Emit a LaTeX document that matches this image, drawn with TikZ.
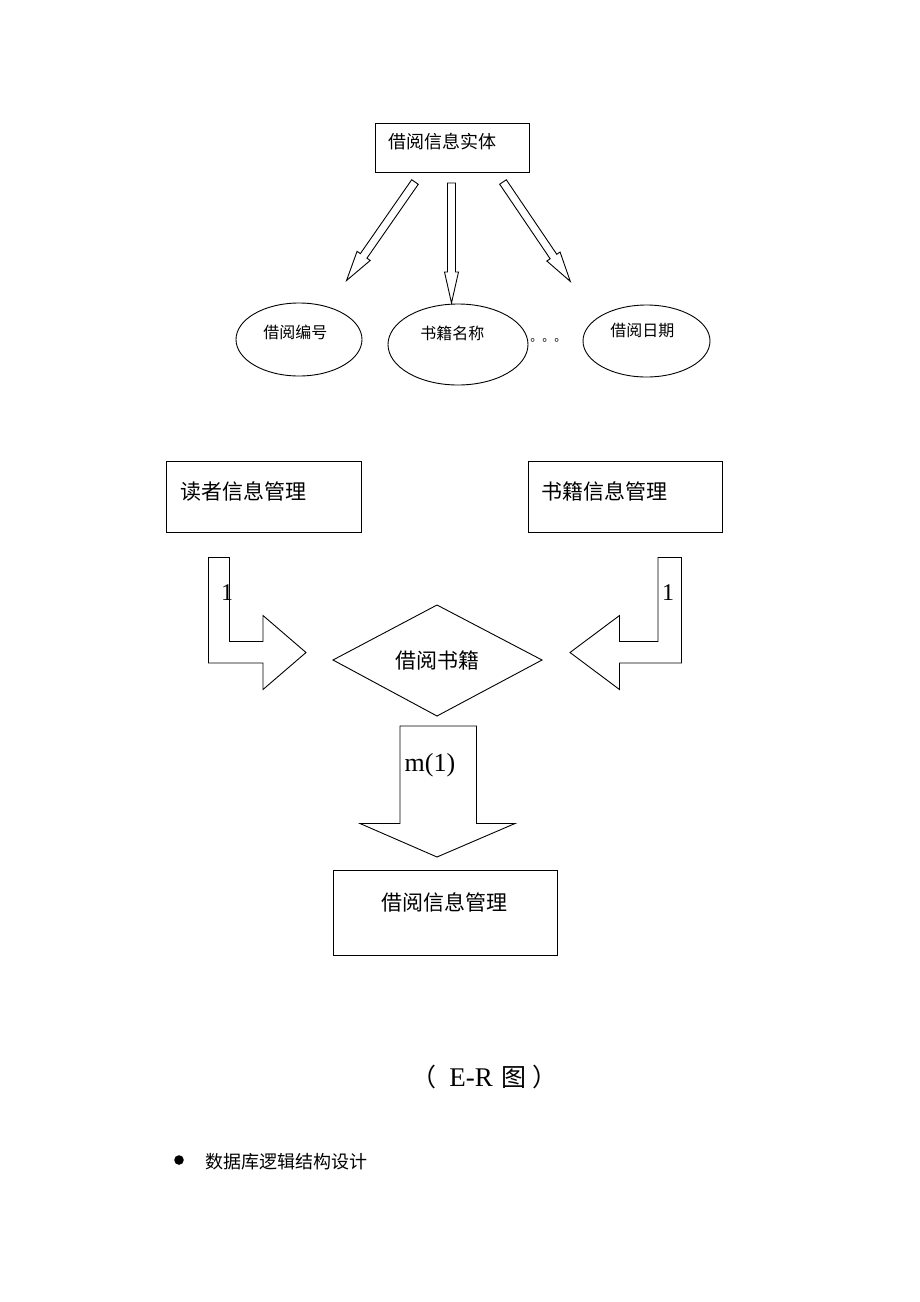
\documentclass[tikz,border=0pt]{standalone}
\usepackage{fontspec}
\setmainfont{Liberation Serif}
\newfontfamily\cjk{Noto Sans CJK SC}

\begin{document}
\begin{tikzpicture}[x=1pt, y=-1pt, line width=0.9pt, line join=miter,
    txt/.style={inner sep=0pt, anchor=west, font=\cjk\fontsize{#1}{#1}\selectfont},
    txt/.default=21,
    num/.style={inner sep=0pt, font=\fontsize{#1}{#1}\selectfont},
    num/.default=24]
  \useasboundingbox (0,0) rectangle (920,1302);

  % entity box and its attributes
  \draw (375,123) rectangle (529,172);
  \node (shiti) [txt=18] at (388,142) {借阅信息实体};

  \begin{scope}[shift={(415,182)}, rotate=-124.8]
    \draw (0,4) -- (90,4) -- (90,8) -- (120,0) -- (90,-8) -- (90,-4) -- (0,-4) -- cycle;
  \end{scope}
  \begin{scope}[shift={(451.5,183)}, rotate=-90]
    \draw (0,4) -- (89,4) -- (89,7) -- (120,0) -- (89,-7) -- (89,-4) -- (0,-4) -- cycle;
  \end{scope}
  \begin{scope}[shift={(503,182)}, rotate=-55.9]
    \draw (0,4) -- (90,4) -- (90,8) -- (120,0) -- (90,-8) -- (90,-4) -- (0,-4) -- cycle;
  \end{scope}

  \draw (299,339.5) ellipse [x radius=63, y radius=36.5];
  \draw (458,344.5) ellipse [x radius=70, y radius=40.5];
  \draw (646.5,341) ellipse [x radius=63.5, y radius=36];
  \node (bianhao) [txt=16] at (263,332) {借阅编号};
  \node (mingcheng) [txt=16] at (420,333) {书籍名称};
  \node (riqi) [txt=16] at (610,330) {借阅日期};
  \node (dots) [txt=12] at (530,340) {。。。};

  % relationship
  \draw (166.5,461) rectangle (361.5,532);
  \node (duzhe) [txt] at (180,491.5) {读者信息管理};
  \draw (528,461) rectangle (722,532);
  \node (shuji) [txt] at (541,491.5) {书籍信息管理};

  \draw (208.5,557.5) -- (229.5,557.5) -- (229.5,641.5) -- (263,641.5) -- (263,615.5)
        -- (306,652.5) -- (263,689.5) -- (263,663) -- (208.5,663) -- cycle;
  \node (n1) [num] at (227,593) {1};
  \draw (681.5,557.5) -- (658,557.5) -- (658,641.5) -- (619.5,641.5) -- (619.5,615.5)
        -- (570,652.5) -- (619.5,689.5) -- (619.5,663) -- (681.5,663) -- cycle;
  \node (n2) [num] at (668,593) {1};

  \draw (333,660) -- (437,605) -- (542,660) -- (437,716) -- cycle;
  \node (jieyue) [txt] at (395,660) {借阅书籍};

  \draw (400,726) -- (476.5,726) -- (476.5,823.5) -- (515,823.5) -- (437,857)
        -- (360,823.5) -- (400,823.5) -- cycle;
  \node (m1) [num=26] at (430,765) {m(1)};

  \draw (333,870) rectangle (557,955);
  \node (guanli) [txt] at (381,902.5) {借阅信息管理};

  % caption and bullet line
  \node (tu) [txt=25] at (411,1077)
    {（\hspace{13pt}{\rmfamily\fontsize{27}{27}\selectfont E-R}\hspace{9pt}图\hspace{6pt}）};
  \fill (179,1160) circle [radius=4.8];
  \node (sheji) [txt=18] at (205,1161.5) {数据库逻辑结构设计};
\end{tikzpicture}
\end{document}
